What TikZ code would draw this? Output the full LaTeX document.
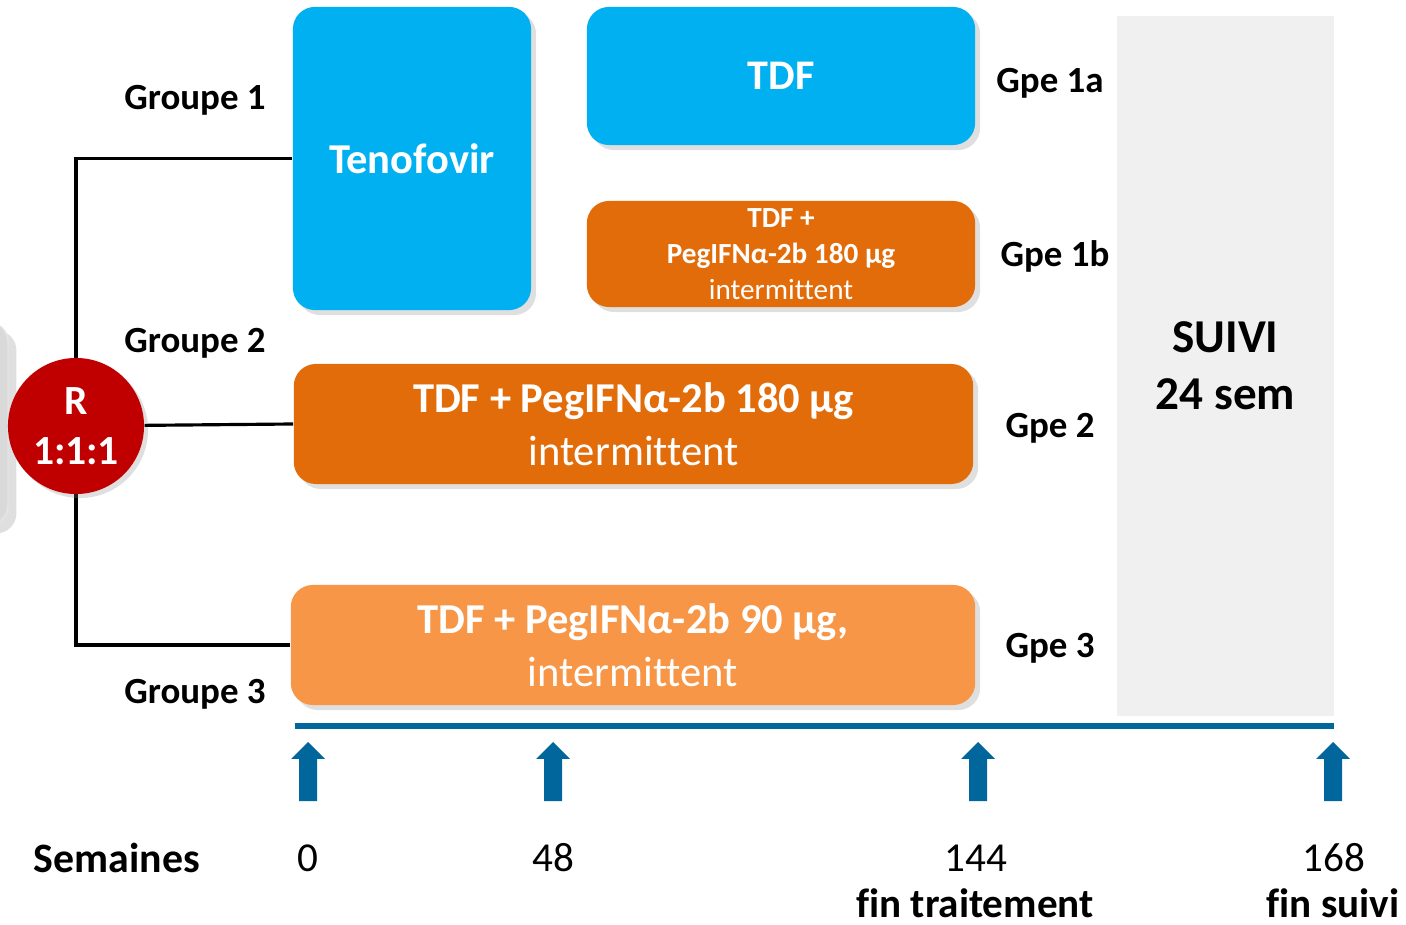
\documentclass[tikz,border=0pt]{standalone}
\usepackage{fontspec}
\setmainfont{Carlito}[Ligatures=NoCommon]
\usetikzlibrary{shadows}
\definecolor{tdfblue}{HTML}{00B0F0}
\definecolor{pegorange}{HTML}{E36C0A}
\definecolor{peglight}{HTML}{F79646}
\definecolor{randred}{HTML}{C00000}
\definecolor{suivigray}{HTML}{F0F0F0}
\definecolor{tlblue}{HTML}{00669C}
\def\weekarrow(#1){\fill[tlblue] (#1-17,759) -- (#1,742) -- (#1+17,759) -- (#1+9,759) -- (#1+9,801) -- (#1-9,801) -- (#1-9,759) -- cycle;}

\begin{document}
\begin{tikzpicture}[x=0.01cm, y=-0.01cm,
	box/.style={rounded corners=0.22cm, text=white, align=center, inner sep=0pt,
		drop shadow={opacity=0.25, shadow xshift=0.05cm, shadow yshift=-0.05cm}},
	link/.style={line width=0.9pt, black},
	grp/.style={font=\fontsize{10.5}{12}\selectfont\bfseries},
	big/.style={font=\fontsize{12.1}{15}\selectfont},
	week/.style={font=\fontsize{11.7}{14}\selectfont, inner sep=0pt}]
			%%%%% START %%%%%
			\useasboundingbox (0,0) rectangle (1406,925);
			
			\draw[fill=black!15, draw=black!10, rounded corners=0.2cm, drop shadow={opacity=0.25}] (-60,322) rectangle (8,525);
			
			\node[fill=suivigray, minimum width=2.17cm, minimum height=6.99cm, align=center,
				font=\fontsize{13.4}{16.3}\selectfont\bfseries] (suivi) at (1225.5,366) {SUIVI\\24 sem};
			
			\node[box, fill=tdfblue, minimum width=2.38cm, minimum height=3.03cm,
				font=\fontsize{12.1}{14}\selectfont\bfseries] (tenof) at (412,158.5) {Tenofovir};
			\node[box, fill=tdfblue, minimum width=3.88cm, minimum height=1.38cm,
				font=\fontsize{12}{14}\selectfont\bfseries] (g1a) at (781,76) {TDF};
			\node[box, fill=pegorange, minimum width=3.88cm, minimum height=1.06cm,
				font=\fontsize{8.3}{10.2}\selectfont] (g1b) at (781,254)
				{\textbf{TDF +}\\\textbf{PegIFNα-2b 180 µg}\\intermittent};
			\node[box, fill=pegorange, minimum width=6.79cm, minimum height=1.2cm, big] (g2) at (633.5,424)
				{\textbf{TDF + PegIFNα-2b 180 µg}\\intermittent};
			\node[box, fill=peglight, minimum width=6.84cm, minimum height=1.2cm, big] (g3) at (633,645)
				{\textbf{TDF + PegIFNα-2b 90 µg,}\\intermittent};
			
			\draw[link] (76,424) |- (tenof.west);
			\draw[link] (76,424) |- (g3.west);
			\node[circle, fill=randred, minimum size=1.36cm, inner sep=0pt, text=white, align=center,
				font=\fontsize{11.8}{14.2}\selectfont\bfseries,
				drop shadow={opacity=0.25, shadow xshift=0.04cm, shadow yshift=-0.04cm}] (rand) at (76,426) {R\\1:1:1};
			\draw[link] (rand) -- (g2.west);
			
			\node[grp] (grp1) at (195,100) {Groupe 1};
			\node[grp] (grp2) at (195,343) {Groupe 2};
			\node[grp] (grp3) at (195,694) {Groupe 3};
			
			\node[grp] (lab1a) at (1050,83) {Gpe 1a};
			\node[grp] (lab1b) at (1055,256) {Gpe 1b};
			\node[grp] (lab2) at (1050,428) {Gpe 2};
			\node[grp] (lab3) at (1050,648) {Gpe 3};
			
			\coordinate (tstart) at (295,726);
			\coordinate (tend) at (1334,726);
			\draw[tlblue, line width=1.7pt] (tstart) -- (tend);
			
			\weekarrow(308)
			\weekarrow(553)
			\weekarrow(978)
			\weekarrow(1333)
			
			\node[week, font=\fontsize{11.9}{14}\selectfont\bfseries] (sem) at (117,858) {Semaines};
			\node[week] (w0) at (308,858) {0};
			\node[week] (w48) at (553,858) {48};
			\node[week] (w144) at (976,858) {144};
			\node[week] (w168) at (1334,858) {168};
			\node[week, font=\fontsize{11.7}{14}\selectfont\bfseries] (fintr) at (975,903) {fin traitement};
			\node[week, font=\fontsize{11.7}{14}\selectfont\bfseries] (finsu) at (1333,903) {fin suivi};
			%%%%% END %%%%%
		\end{tikzpicture}
\end{document}
